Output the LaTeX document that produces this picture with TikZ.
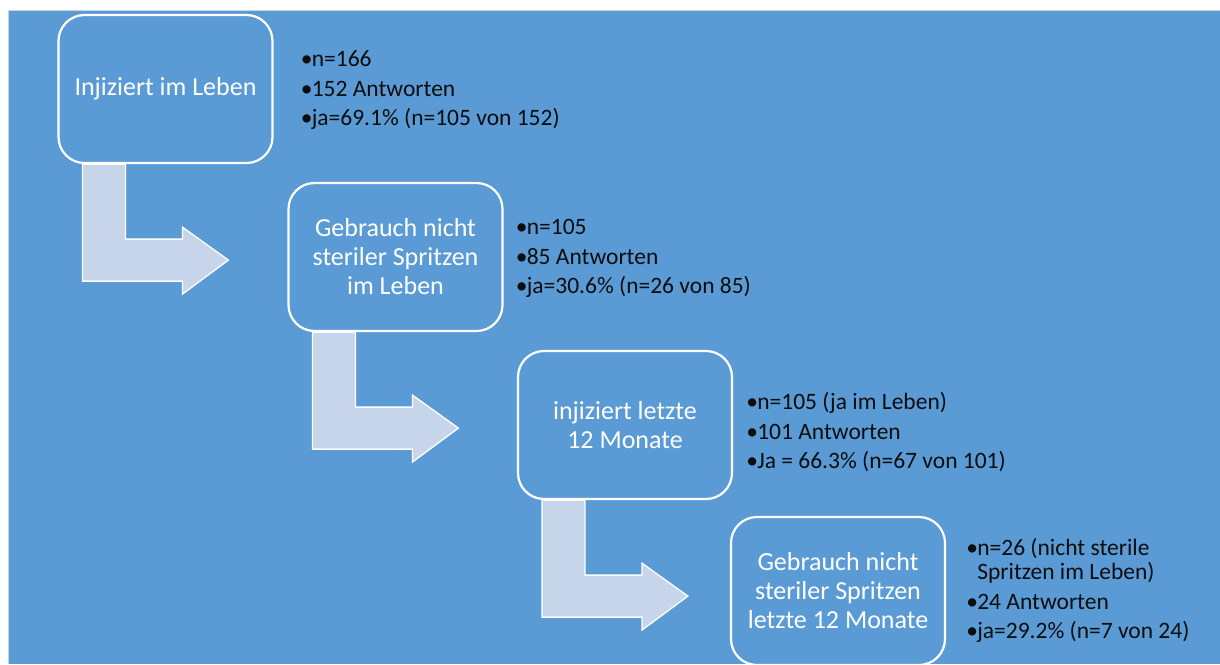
\documentclass[tikz,border=0pt]{standalone}
\usepackage{fontspec}
\setmainfont{Carlito}
\usetikzlibrary{calc}
\definecolor{bgblue}{HTML}{5B9BD5}
\definecolor{arrfill}{HTML}{C6D5EA}
\definecolor{edgegray}{HTML}{C9D3DE}
\newcommand\blt{\makebox[11pt][l]{•}}
\newcommand\bentarr[1]{%
  \draw[arrowshape] ($(#1.south west)+(25,0)$) -- ++(43,0) -- ++(0,75) -- ++(57,0)
    -- ++(0,-12) -- ++(46,33) -- ++(-46,34) -- ++(0,-13) -- ++(-100,0) -- cycle;}
\tikzset{
  stagebox/.style={draw=white, line width=2.2pt, fill=bgblue, rounded corners=26pt,
    minimum width=214pt, minimum height=148pt, align=center, text=white,
    font=\fontsize{26}{29}\selectfont, inner sep=0pt},
  arrowshape/.style={fill=arrfill, draw=white, line width=1.3pt, line join=miter},
  infotext/.style={anchor=base west, inner sep=0pt, text=black!95,
    font=\fontsize{23.5}{29.5}\selectfont},
}
\begin{document}
\begin{tikzpicture}[x=1pt, y=-1pt]
\useasboundingbox (0,0) rectangle (1220,664);
\fill[bgblue] (8,10) rectangle (1220,664);
\draw[edgegray, line width=1pt] (8,664) -- (8,10) -- (1220,10);

\node[stagebox] (s1) at (165.5,89) {Injiziert im Leben};
\node[stagebox] (s2) at (395.5,257) {Gebrauch nicht\\steriler Spritzen\\im Leben};
\node[stagebox] (s3) at (625,425) {injiziert letzte\\12 Monate};
\node[stagebox] (s4) at (838,591) {Gebrauch nicht\\steriler Spritzen\\letzte 12 Monate};

\bentarr{s1}
\bentarr{s2}
\bentarr{s3}

\node[infotext] (i1) at ($(s1.north east)+(27,53)$) {\begin{tabular}[t]{@{}l@{}}\blt n=166\\\blt 152 Antworten\\\blt ja=69.1\% (n=105 von 152)\end{tabular}};
\node[infotext] (i2) at ($(s2.north east)+(12,53)$) {\begin{tabular}[t]{@{}l@{}}\blt n=105\\\blt 85 Antworten\\\blt ja=30.6\% (n=26 von 85)\end{tabular}};
\node[infotext] (i3) at ($(s3.north east)+(13,60)$) {\begin{tabular}[t]{@{}l@{}}\blt n=105 (ja im Leben)\\\blt 101 Antworten\\\blt Ja = 66.3\% (n=67 von 101)\end{tabular}};
\node[infotext] (i4) at ($(s4.north east)+(20,40)$) {\begin{tabular}[t]{@{}l@{}}\blt n=26 (nicht sterile\\[-5.5pt]\hspace{11pt}Spritzen im Leben)\\\blt 24 Antworten\\\blt ja=29.2\% (n=7 von 24)\end{tabular}};
\end{tikzpicture}
\end{document}
